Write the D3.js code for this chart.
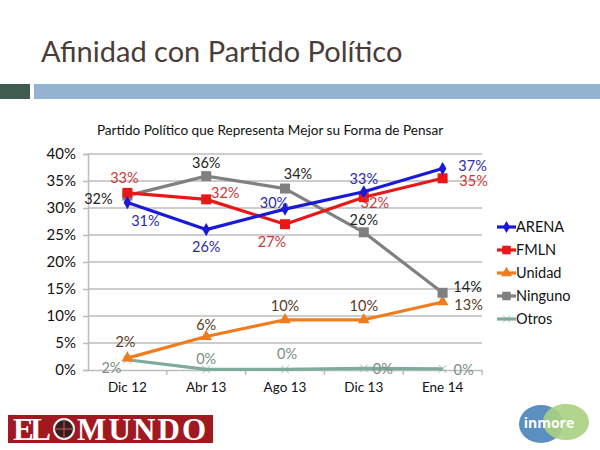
<!DOCTYPE html>
<html><head><meta charset="utf-8">
<script src="https://cdn.jsdelivr.net/npm/d3@7"></script>
<style>body{margin:0;background:#fff}svg{display:block}</style>
</head><body>
<svg id="c" width="600" height="450"></svg>
<script>
const categories = ["Dic 12","Abr 13","Ago 13","Dic 13","Ene 14"];
const arena   = [31.0, 26.0, 29.8, 33.0, 37.3];
const fmln    = [32.8, 31.6, 27.0, 32.0, 35.5];
const unidad  = [2.2, 6.2, 9.3, 9.3, 12.6];
const ninguno = [32.3, 35.9, 33.6, 25.5, 14.3];
const otros   = [1.9, 0.1, 0.1, 0.3, 0.2];
const arenaLbl   = ["31%","26%","30%","33%","37%"];
const fmlnLbl    = ["33%","32%","27%","32%","35%"];
const unidadLbl  = ["2%","6%","10%","10%","13%"];
const ningunoLbl = ["32%","36%","34%","26%","14%"];
const otrosLbl   = ["2%","0%","0%","0%","0%"];
const yTicks = [0,5,10,15,20,25,30,35,40];

const series = [
  {name:"ARENA", values:arena, labels:arenaLbl, color:"#1a1ad6", lcolor:"#2c2ca8", marker:"diamond",
   off:[[18,18],[0,17],[-11,-6],[0,-13],[30,-3]]},
  {name:"FMLN", values:fmln, labels:fmlnLbl, color:"#e81818", lcolor:"#c83838", marker:"square",
   off:[[-3,-15],[19,-6],[-13,18],[11,6],[31,3]]},
  {name:"Unidad", values:unidad, labels:unidadLbl, color:"#f07c1e", lcolor:"#5a3a22", marker:"triangle",
   off:[[-2,-16],[0,-12],[0,-14],[0,-14],[26,3]]},
  {name:"Ninguno", values:ninguno, labels:ningunoLbl, color:"#808080", lcolor:"#222", marker:"square",
   off:[[-29,3],[0,-13],[13,-15],[0,-12],[25,-6]]},
  {name:"Otros", values:otros, labels:otrosLbl, color:"#7fab9c", lcolor:"#7d8c84", marker:"star",
   off:[[-16,8],[0,-11],[2,-16],[19,1],[21,1]]}
];

const svg = d3.select("#c");
const FONT = "Lato, 'Open Sans', sans-serif";

// Slide header
svg.append("text").attr("x",41).attr("y",62).attr("font-family",FONT)
  .attr("font-size",29).attr("fill","#4a3d38").text("Afinidad con Partido Político");
svg.append("rect").attr("x",0).attr("y",84).attr("width",30).attr("height",15).attr("fill","#3e5c50");
svg.append("rect").attr("x",34).attr("y",84).attr("width",566).attr("height",15).attr("fill","#94b3d1");

// Chart title
svg.append("text").attr("x",270).attr("y",135).attr("text-anchor","middle").attr("font-family",FONT)
  .attr("font-size",13.6).attr("fill","#111").text("Partido Político que Representa Mejor su Forma de Pensar");

const x = d3.scaleBand().domain(categories).range([88,482]);
const y = d3.scaleLinear().domain([0,40]).range([370,154]);

// gridlines
svg.append("g").selectAll("line").data(yTicks.filter(d=>d>0)).join("line")
  .attr("x1",88).attr("x2",482).attr("y1",d=>y(d)).attr("y2",d=>y(d))
  .attr("stroke","#bdbdbd").attr("stroke-width",1.5);

// y axis
const yAxis = d3.axisLeft(y).tickValues(yTicks).tickFormat(d=>d+"%").tickSize(5).tickPadding(7);
const gy = svg.append("g").attr("transform","translate(88,0)").call(yAxis);
gy.select(".domain").attr("stroke","#bdbdbd").attr("stroke-width",1.5);
gy.selectAll(".tick line").attr("stroke","#bdbdbd").attr("stroke-width",1.5);
gy.selectAll("text").attr("font-family",FONT).attr("font-size",15).attr("fill","#111");

// x axis
const xAxis = d3.axisBottom(x).tickSize(0).tickPadding(12);
const gx = svg.append("g").attr("transform","translate(0,370)").call(xAxis);
gx.select(".domain").attr("stroke","#bdbdbd").attr("stroke-width",1.5);
gx.selectAll("text").attr("font-family",FONT).attr("font-size",13.5).attr("fill","#111");
// boundary ticks
svg.append("g").selectAll("line").data(categories.slice(1)).join("line")
  .attr("x1",d=>x(d)).attr("x2",d=>x(d)).attr("y1",370).attr("y2",375)
  .attr("stroke","#bdbdbd").attr("stroke-width",1.5);
svg.append("line").attr("x1",482).attr("x2",482).attr("y1",370).attr("y2",375).attr("stroke","#bdbdbd").attr("stroke-width",1.5);

const cx = c => x(c) + x.bandwidth()/2;
const line = d3.line().x((d,i)=>cx(categories[i])).y(d=>y(d));

function marker(g, type, color, px, py, s) {
  s = s || 1;
  if (type==="diamond") g.append("path").attr("d",d3.symbol(d3.symbolDiamond,50*s)()).attr("transform",`translate(${px},${py})`).attr("fill",color);
  else if (type==="square") g.append("rect").attr("x",px-5*s).attr("y",py-5*s).attr("width",10*s).attr("height",10*s).attr("fill",color);
  else if (type==="triangle") g.append("path").attr("d",d3.symbol(d3.symbolTriangle,60*s)()).attr("transform",`translate(${px},${py})`).attr("fill",color);
  else if (type==="star") g.append("path").attr("d",d3.symbol(d3.symbolTimes,40*s)()).attr("transform",`translate(${px},${py})`).attr("fill",color).attr("stroke",color).attr("stroke-width",0.8);
}

const drawOrder = [4,2,3,1,0];
drawOrder.forEach(si=>{
  const s = series[si];
  svg.append("path").datum(s.values).attr("d",line).attr("fill","none")
    .attr("stroke",s.color).attr("stroke-width",3.2).attr("stroke-linejoin","round");
  const g = svg.append("g");
  s.values.forEach((v,i)=>marker(g,s.marker,s.color,cx(categories[i]),y(v)));
});
series.forEach(s=>{
  svg.append("g").selectAll("text").data(s.values).join("text")
    .attr("x",(d,i)=>cx(categories[i])+s.off[i][0])
    .attr("y",(d,i)=>y(d)+s.off[i][1])
    .attr("dy","0.35em").attr("text-anchor","middle")
    .attr("font-family",FONT).attr("font-size",14.5).attr("fill",s.lcolor)
    .text((d,i)=>s.labels[i]);
});

// legend
const lg = svg.append("g");
series.forEach((s,i)=>{
  const ly = 227 + i*23;
  lg.append("line").attr("x1",497).attr("x2",516).attr("y1",ly).attr("y2",ly).attr("stroke",s.color).attr("stroke-width",3.2);
  marker(lg,s.marker,s.color,506.5,ly,0.85);
  lg.append("text").attr("x",516).attr("y",ly).attr("dy","0.35em").attr("font-family",FONT)
    .attr("font-size",14.5).attr("fill","#111").text(s.name);
});

// EL MUNDO logo
const lm = svg.append("g");
lm.append("rect").attr("x",8).attr("y",415).attr("width",205).attr("height",28).attr("fill","#a01820");
lm.append("text").attr("x",13).attr("y",440).attr("font-family","'Liberation Serif', serif").attr("font-weight","bold")
  .attr("font-size",31).attr("fill","#fff").attr("textLength",38).text("EL");
lm.append("circle").attr("cx",64).attr("cy",429).attr("r",10).attr("fill","#3a1a1a").attr("stroke","#fff").attr("stroke-width",2);
lm.append("path").attr("d","M54,429H74M64,419V439").attr("stroke","#c06060").attr("stroke-width",1);
lm.append("text").attr("x",77).attr("y",440).attr("font-family","'Liberation Serif', serif").attr("font-weight","bold")
  .attr("font-size",31).attr("fill","#fff").attr("textLength",129).text("MUNDO");

// inmore logo
const li = svg.append("g");
li.append("ellipse").attr("cx",541).attr("cy",424).attr("rx",22).attr("ry",19).attr("fill","#5b8fc0");
li.append("ellipse").attr("cx",566).attr("cy",422).attr("rx",23).attr("ry",18).attr("fill","#a8d080").attr("opacity",0.9);
li.append("text").attr("x",549).attr("y",428).attr("text-anchor","middle").attr("font-family","'Open Sans', sans-serif")
  .attr("font-weight","bold").attr("font-size",14).attr("fill","#fff").text("inmore");
</script>
</body></html>
